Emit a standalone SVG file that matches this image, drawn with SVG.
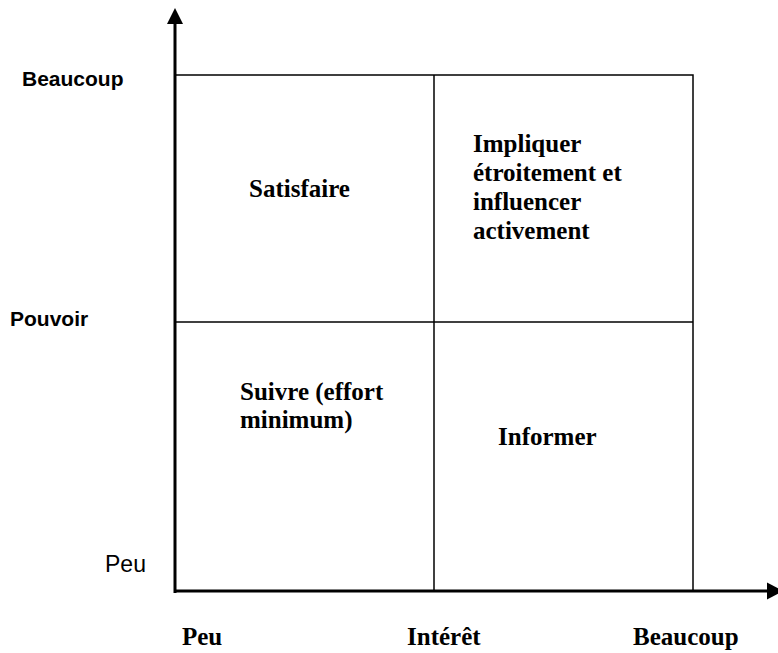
<svg xmlns="http://www.w3.org/2000/svg" width="778" height="653" viewBox="0 0 778 653">
  <style>
    .grid { fill: none; stroke: #000; stroke-width: 1.5; }
    .axis { stroke: #000; stroke-width: 3; fill: none; }
    .head { fill: #000; stroke: none; }
    .q { font-family: "Liberation Serif", "Times New Roman", serif; font-weight: bold; font-size: 25px; fill: #000; }
    .lab { font-family: "Liberation Sans", Arial, sans-serif; font-weight: bold; font-size: 21px; fill: #000; }
    .peu { font-family: "Liberation Sans", Arial, sans-serif; font-size: 23px; fill: #000; }
  </style>
  <rect width="778" height="653" fill="#fff"/>
  <g id="grid">
    <rect class="grid" x="175" y="75" width="518" height="516"/>
    <line class="grid" x1="434" y1="75" x2="434" y2="591"/>
    <line class="grid" x1="175" y1="322" x2="693" y2="322"/>
  </g>
  <g id="connectors">
    <line class="axis" x1="175" y1="593" x2="175" y2="22"/>
    <polygon class="head" points="175,8 183,24 167,24"/>
    <line class="axis" x1="174" y1="591" x2="768" y2="591"/>
    <polygon class="head" points="783,591 767,582.5 767,599.5"/>
  </g>
  <g id="q-satisfaire">
    <text class="q" x="249" y="197">Satisfaire</text>
  </g>
  <g id="q-impliquer">
    <text class="q" x="473" y="152">Impliquer</text>
    <text class="q" x="473" y="181">étroitement et</text>
    <text class="q" x="473" y="210">influencer</text>
    <text class="q" x="473" y="239">activement</text>
  </g>
  <g id="q-suivre">
    <text class="q" x="240" y="400">Suivre (effort</text>
    <text class="q" x="240" y="428">minimum)</text>
  </g>
  <g id="q-informer">
    <text class="q" x="498" y="445">Informer</text>
  </g>
  <g id="y-labels">
    <text class="lab" x="22" y="86">Beaucoup</text>
    <text class="lab" x="10" y="326">Pouvoir</text>
    <text class="peu" x="105" y="572">Peu</text>
  </g>
  <g id="x-labels">
    <text class="q" x="182" y="645">Peu</text>
    <text class="q" x="407" y="645">Intérêt</text>
    <text class="q" x="633" y="645">Beaucoup</text>
  </g>
</svg>
